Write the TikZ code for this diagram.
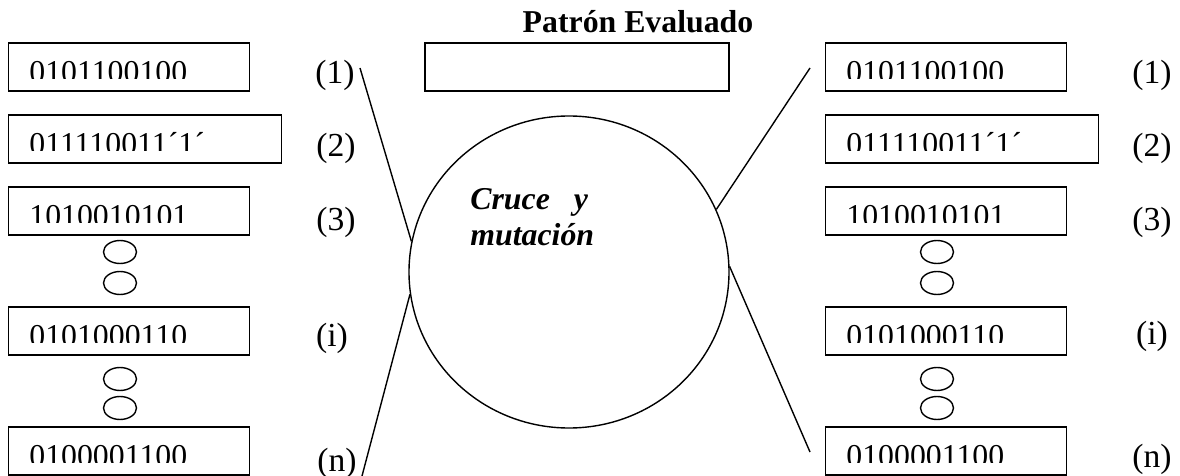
\documentclass[tikz,border=0pt]{standalone}
\usepackage{fontspec}
\setmainfont{Liberation Serif}
\usetikzlibrary{positioning, calc, shapes.geometric}

\tikzset{
  bitbox/.style={draw, line width=0.7pt, minimum height=24pt, inner sep=0pt, anchor=west},
  bittext/.style={anchor=base west, inner sep=0pt, font=\fontsize{15.9}{19}\selectfont},
  tag/.style={anchor=base, inner sep=0pt, font=\fontsize{16.8}{20}\selectfont},
  dotmark/.style={draw, ellipse, line width=0.7pt, minimum width=16.5pt, minimum height=11.5pt, inner sep=0pt},
  link/.style={line width=0.7pt},
}

\begin{document}
\begin{tikzpicture}[x=0.5pt, y=-0.5pt]
  \useasboundingbox (0,0) rectangle (1180,476);

  % chromosome rows, left (before) and right (after)
  \foreach \side/\xl in {L/8, R/825}{
    \foreach \n/\yc/\w/\bits in {
      1/67/241/0101100100,
      2/139/273/011110011´1´,
      3/211/241/1010010101,
      i/331/241/0101000110,
      n/451/241/0100001100}{
      \node[bitbox, minimum width=\w*0.5pt] (\side\n) at (\xl,\yc) {};
      \begin{scope}
        \clip (\side\n.north west) rectangle ($(\side\n.north east)+(0,36)$);
        \node[bittext] (\side txt\n) at ($(\side\n.north west)+(21,40)$) {\bits};
      \end{scope}
    }
    % ellipsis marks between rows
    \pgfmathsetmacro{\xd}{\xl+112}
    \foreach \k/\yc in {1/252, 2/283, 3/379, 4/408}
      \node[dotmark] (\side dot\k) at (\xd,\yc) {};
  }

  % row numbers
  \foreach \n/\yc/\xc in {1/84/335, 2/157/336, 3/231/336, i/347/332, n/471/337}
    \node[tag] (Ltag\n) at (\xc,\yc) {(\n)};
  \foreach \n/\yc in {1/84, 2/157, 3/231, i/344, n/467}
    \node[tag] (Rtag\n) at (1152,\yc) {(\n)};

  % evaluated pattern and crossover operator
  \node[anchor=base, inner sep=0pt, font=\bfseries\fontsize{15.9}{19}\selectfont] (title) at (638,33) {Patrón Evaluado};
  \node[draw, line width=0.7pt, minimum width=152pt, minimum height=24pt, inner sep=0pt] (eval) at (577,67) {};
  \node[draw, ellipse, line width=0.7pt, minimum width=160pt, minimum height=156pt, inner sep=0pt] (cross) at (569,272) {};
  \node[anchor=base west, align=left, inner sep=0pt, font=\bfseries\itshape\fontsize{15.9}{18}\selectfont] (crosstxt) at (470,246) {Cruce\ \ \ y\\mutación};

  % connectors
  \coordinate (lin1) at (360,68);
  \coordinate (linn) at (362,476);
  \coordinate (rout1) at (810,68);
  \coordinate (routn) at (810,452);
  \draw[link] (lin1) -- (cross.169);
  \draw[link] (linn) -- (cross.188);
  \draw[link] (rout1) -- (cross.23);
  \draw[link] (routn) -- (cross.2);
\end{tikzpicture}
\end{document}
